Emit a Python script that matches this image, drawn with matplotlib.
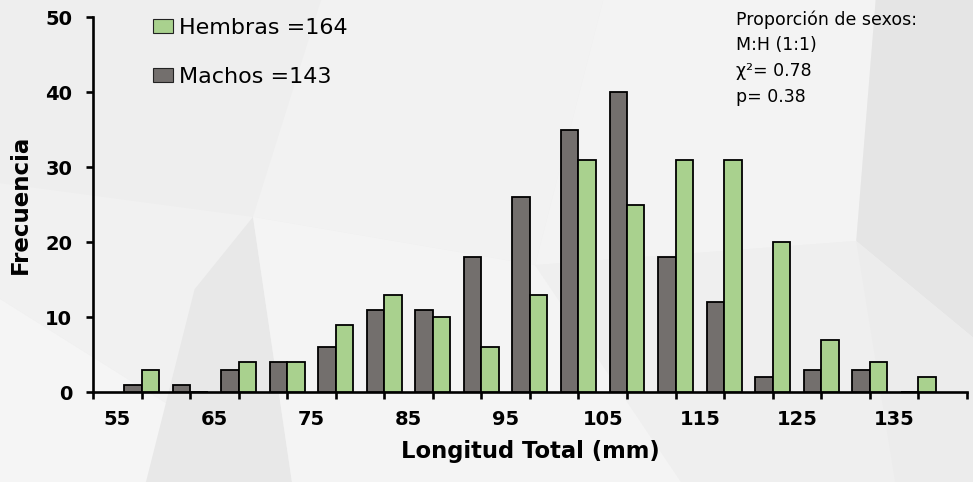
import numpy as np
import matplotlib
matplotlib.use("Agg")
import matplotlib.pyplot as plt
from matplotlib.patches import Polygon, Patch

# Data
clases = [55, 60, 65, 70, 75, 80, 85, 90, 95, 100, 105, 110, 115, 120, 125, 130, 135]
machos = [1, 1, 3, 4, 6, 11, 11, 18, 26, 35, 40, 18, 12, 2, 3, 3, 0]
hembras = [3, 0, 4, 4, 9, 13, 10, 6, 13, 31, 25, 31, 31, 20, 7, 4, 2]
etiquetas_x = ["55", "65", "75", "85", "95", "105", "115", "125", "135"]
yticks = [0, 10, 20, 30, 40, 50]

color_m = "#736f6d"
color_h = "#a9d18e"

plt.rcParams['font.family'] = ['DejaVu Sans']

fig = plt.figure(figsize=(9.73, 4.82), dpi=100)
fig.patch.set_facecolor("#efefef")

# faint low-poly background
fondo = [
    ([(0, 1), (0.33, 1), (0.26, 0.55), (0, 0.62)], "#eeeeee"),
    ([(0, 0.38), (0.30, 0), (0, 0)], "#f5f5f5"),
    ([(0, 0.62), (0.26, 0.55), (0.30, 0), (0, 0.38)], "#f1f1f1"),
    ([(0.26, 0.55), (0.33, 1), (0.62, 1), (0.55, 0.45)], "#f2f2f2"),
    ([(0.15, 0), (0.30, 0), (0.26, 0.55), (0.20, 0.40)], "#e8e8e8"),
    ([(0.30, 0), (0.26, 0.55), (0.55, 0.45), (0.70, 0)], "#f4f4f4"),
    ([(0.62, 1), (0.90, 1), (0.88, 0.50), (0.55, 0.45)], "#f3f3f3"),
    ([(0.70, 0), (0.55, 0.45), (0.88, 0.50), (0.92, 0)], "#efefef"),
    ([(0.90, 1), (1, 1), (1, 0.30), (0.88, 0.50)], "#e5e5e5"),
    ([(0.92, 0), (0.88, 0.50), (1, 0.30), (1, 0)], "#ececec"),
]
for pts, c in fondo:
    fig.patches.append(Polygon(pts, closed=True, transform=fig.transFigure,
                               facecolor=c, edgecolor="none", zorder=-10))

ax = fig.add_axes([0.0956, 0.1867, 0.898, 0.778])
ax.set_facecolor("none")

x = np.arange(1, len(clases) + 1)
w = 0.36
ax.bar(x - w / 2, machos, width=w, color=color_m, edgecolor="black", linewidth=1.3, zorder=3)
ax.bar(x + w / 2, hembras, width=w, color=color_h, edgecolor="black", linewidth=1.3, zorder=3)

ax.set_xlim(0, len(clases) + 1)
ax.set_ylim(0, 50)

for s in ["top", "right"]:
    ax.spines[s].set_visible(False)
for s in ["left", "bottom"]:
    ax.spines[s].set_linewidth(1.9)

# tick marks at class boundaries, labels between them
ax.set_xticks(np.arange(0, len(clases) + 2))
ax.set_xticklabels([])
ax.set_xticks(np.arange(0.5, len(clases) + 1, 2), minor=True)
ax.set_xticklabels(etiquetas_x, minor=True)
ax.tick_params(axis="x", which="major", direction="out", length=5, width=1.9)
ax.tick_params(axis="x", which="minor", length=0, pad=13, labelsize=14)
ax.set_yticks(yticks)
ax.tick_params(axis="y", direction="out", length=5, width=1.9, pad=10, labelsize=14)
for lab in ax.get_xticklabels(minor=True) + ax.get_yticklabels():
    lab.set_fontweight("bold")

ax.set_xlabel("Longitud Total (mm)", fontsize=16.3, fontweight="bold", labelpad=8)
fig.text(0.021, 0.575, "Frecuencia", rotation=90, fontsize=16.5, fontweight="bold",
         ha="center", va="center")

handles = [Patch(facecolor=color_h, edgecolor="#222222", linewidth=0.8),
           Patch(facecolor=color_m, edgecolor="#222222", linewidth=0.8)]
fig.legend(handles, ["Hembras =164", "Machos =143"], loc="upper left",
           bbox_to_anchor=(153 / 973, 1 - 18 / 482), frameon=False, fontsize=16,
           handlelength=0.9, handleheight=0.6, handletextpad=0.25,
           labelspacing=1.3, borderpad=0, borderaxespad=0)

nota = ["Proporción de sexos:", "M:H (1:1)", "χ²= 0.78", "p= 0.38"]
for i, linea in enumerate(nota):
    fig.text(736 / 973, 1 - (20 + 25.5 * i) / 482, linea, fontsize=12.5,
             ha="left", va="center")

fig.savefig("out.png", dpi=100, facecolor=fig.get_facecolor())
